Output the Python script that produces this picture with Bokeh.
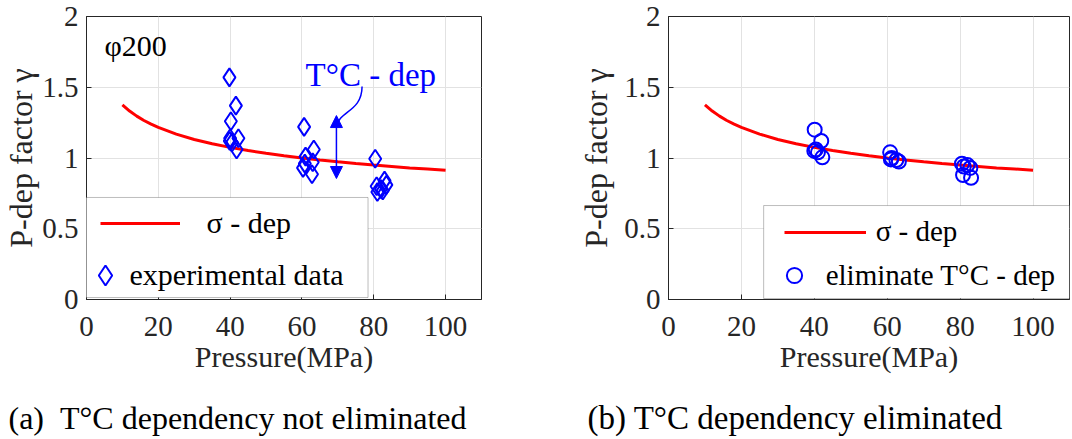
from bokeh.plotting import figure
from bokeh.models import (Range1d, FixedTicker, CustomJSTickFormatter, Legend,
                          LegendItem, BoxAnnotation, Label, Arrow, NormalHead)
from bokeh.layouts import row, column
from bokeh.embed import file_html
from bokeh.resources import INLINE

FONT = "Liberation Serif"

# ---------------- data ----------------
curve_p = [10, 12, 14, 16, 18, 20, 25, 30, 35, 40, 45, 50, 55, 60, 65, 70, 75, 80, 85, 90, 95, 100]
curve_gamma = [1.376, 1.332, 1.296, 1.265, 1.239, 1.216, 1.169, 1.131, 1.101, 1.075, 1.053, 1.033,
               1.016, 1.000, 0.986, 0.973, 0.961, 0.950, 0.940, 0.930, 0.922, 0.913]

exp_p = [39.8, 41.6, 40.2, 40.0, 42.3, 40.5, 39.9, 41.8,
         60.6, 63.3, 61.0, 63.0, 60.3, 62.8, 60.8,
         80.4, 80.8, 83.0, 82.0, 81.0, 83.5, 82.5]
exp_gamma = [1.57, 1.37, 1.26, 1.14, 1.14, 1.11, 1.12, 1.06,
             1.22, 1.06, 1.01, 0.97, 0.93, 0.885, 0.96,
             0.995, 0.80, 0.84, 0.78, 0.76, 0.81, 0.77]

elim_p = [40.1, 41.9, 40.4, 40.0, 42.2, 41.0,
          60.8, 61.2, 62.5, 63.2, 61.0,
          80.5, 81.0, 82.8, 80.8, 83.0, 82.0]
elim_gamma = [1.20, 1.12, 1.06, 1.05, 1.005, 1.04,
              1.04, 1.00, 0.985, 0.975, 0.99,
              0.96, 0.94, 0.93, 0.88, 0.86, 0.95]

x_ticks = [0, 20, 40, 60, 80, 100]
y_ticks = [0, 0.5, 1, 1.5, 2]

captions = ["(a)\u00a0\u00a0T°C dependency not eliminated", "(b) T°C dependency eliminated"]

AX = "#262626"
BLUE = "#0000ff"
RED = "#ff0000"
TOP_H = 389


def make_panel(width, mb_left, mb_right, mb_top, mb_bottom, ylab_standoff):
    p = figure(width=width, height=TOP_H, x_range=Range1d(0, 110), y_range=Range1d(0, 2),
               output_backend="svg", toolbar_location=None,
               min_border_left=mb_left, min_border_right=mb_right,
               min_border_top=mb_top, min_border_bottom=mb_bottom)
    p.background_fill_color = "white"
    p.border_fill_color = "white"
    p.outline_line_color = AX
    p.outline_line_alpha = 1
    fmt = CustomJSTickFormatter(code="return tick.toString();")
    for ax, t in ((p.xaxis[0], x_ticks), (p.yaxis[0], y_ticks)):
        ax.ticker = FixedTicker(ticks=t)
        ax.formatter = fmt
        ax.major_tick_in = 5
        ax.major_tick_out = 0
        ax.minor_tick_in = 0
        ax.minor_tick_out = 0
        ax.axis_line_color = AX
        ax.major_tick_line_color = AX
        ax.major_label_text_font = FONT
        ax.major_label_text_font_size = "29px"
        ax.major_label_text_color = AX
        ax.axis_label_text_font = FONT
        ax.axis_label_text_font_style = "normal"
        ax.axis_label_text_color = AX
    p.xaxis[0].major_label_standoff = 17
    p.yaxis[0].major_label_standoff = 8
    p.xaxis[0].axis_label = "Pressure(MPa)"
    p.xaxis[0].axis_label_text_font_size = "30px"
    p.xaxis[0].axis_label_standoff = 1
    p.yaxis[0].axis_label = "P-dep factor γ"
    p.yaxis[0].axis_label_text_font_size = "32px"
    p.yaxis[0].axis_label_standoff = ylab_standoff
    p.xgrid.ticker = FixedTicker(ticks=x_ticks)
    p.ygrid.ticker = FixedTicker(ticks=y_ticks)
    p.grid.grid_line_color = "#e2e2e2"
    p.grid.grid_line_width = 1
    return p


def legend(item_label, renderer, loc, gw, gh, standoff, size):
    return Legend(items=[LegendItem(label=item_label, renderers=[renderer])], location=loc,
                  padding=0, margin=0, glyph_width=gw, glyph_height=gh, label_height=gh,
                  label_standoff=standoff, border_line_alpha=0, background_fill_alpha=0,
                  label_text_font=FONT, label_text_font_size=size, label_text_color="black")


# ---------------- panel (a) ----------------
p1 = make_panel(575, 86, 94, 16, TOP_H - 299, 0)
c1 = p1.line(curve_p, curve_gamma, line_color=RED, line_width=3)
d1 = p1.scatter(exp_p, exp_gamma, marker="diamond", size=18, fill_color=None,
                line_color=BLUE, line_width=2)
p1.add_layout(BoxAnnotation(left=-0.98, right=78.4, bottom=0.014, top=0.721,
                            fill_color="white", fill_alpha=1, line_color=AX, line_width=1))
p1.add_layout(legend("σ - dep", c1, (13.5, 58), 80, 36, 27, "30px"))
p1.add_layout(legend("experimental data", d1, (-6.5, -1), 50, 50, 0, "30px"))
p1.add_layout(Label(x=5.0, y=1.795, text="φ200", text_font=FONT, text_font_size="30px",
                    text_color="black", text_baseline="alphabetic"))
p1.add_layout(Label(x=61.0, y=1.586, text="T°C - dep", text_font=FONT, text_font_size="33px",
                    text_color=BLUE, text_baseline="alphabetic"))
p1.add_layout(Arrow(start=NormalHead(size=12, fill_color=BLUE, line_color=BLUE),
                    end=NormalHead(size=12, fill_color=BLUE, line_color=BLUE),
                    x_start=69.6, y_start=0.855, x_end=69.6, y_end=1.30,
                    line_color=BLUE, line_width=1.5))
p1.bezier(x0=[76.74], y0=[1.505], x1=[69.6], y1=[1.216], cx0=[76.69], cy0=[1.322],
          cx1=[70.13], cy1=[1.336], line_color=BLUE, line_width=1.5)

# ---------------- panel (b) ----------------
p2 = make_panel(497, 92, 3, 16, TOP_H - 300, 7)
c2 = p2.line(curve_p, curve_gamma, line_color=RED, line_width=3)
o2 = p2.scatter(elim_p, elim_gamma, marker="circle", size=14, fill_color=None,
                line_color=BLUE, line_width=2)
p2.add_layout(BoxAnnotation(left=26.1, right=110, bottom=0.007, top=0.664,
                            fill_color="white", fill_alpha=1, line_color=AX, line_width=1))
p2.add_layout(legend("σ - dep", c2, (115.7, 49.3), 82, 36, 10, "29px"))
p2.add_layout(legend("eliminate T°C - dep", o2, (106.7, 5), 38, 38, 13, "29px"))

# ---------------- caption strip ----------------
p3 = figure(width=1072, height=439 - TOP_H, x_range=Range1d(0, 1072), y_range=Range1d(0, 439 - TOP_H),
            output_backend="svg", toolbar_location=None, x_axis_type=None, y_axis_type=None,
            min_border=0)
p3.outline_line_color = None
p3.background_fill_color = "white"
p3.border_fill_color = "white"
p3.add_layout(Label(x=8, y=22, text=captions[0], text_font=FONT, text_font_size="32px",
                    text_color="black", text_baseline="alphabetic"))
p3.add_layout(Label(x=587, y=22, text=captions[1], text_font=FONT, text_font_size="33px",
                    text_color="black", text_baseline="alphabetic"))

layout = column(row(p1, p2), p3)
open("out.html", "w").write(file_html(layout, INLINE))
